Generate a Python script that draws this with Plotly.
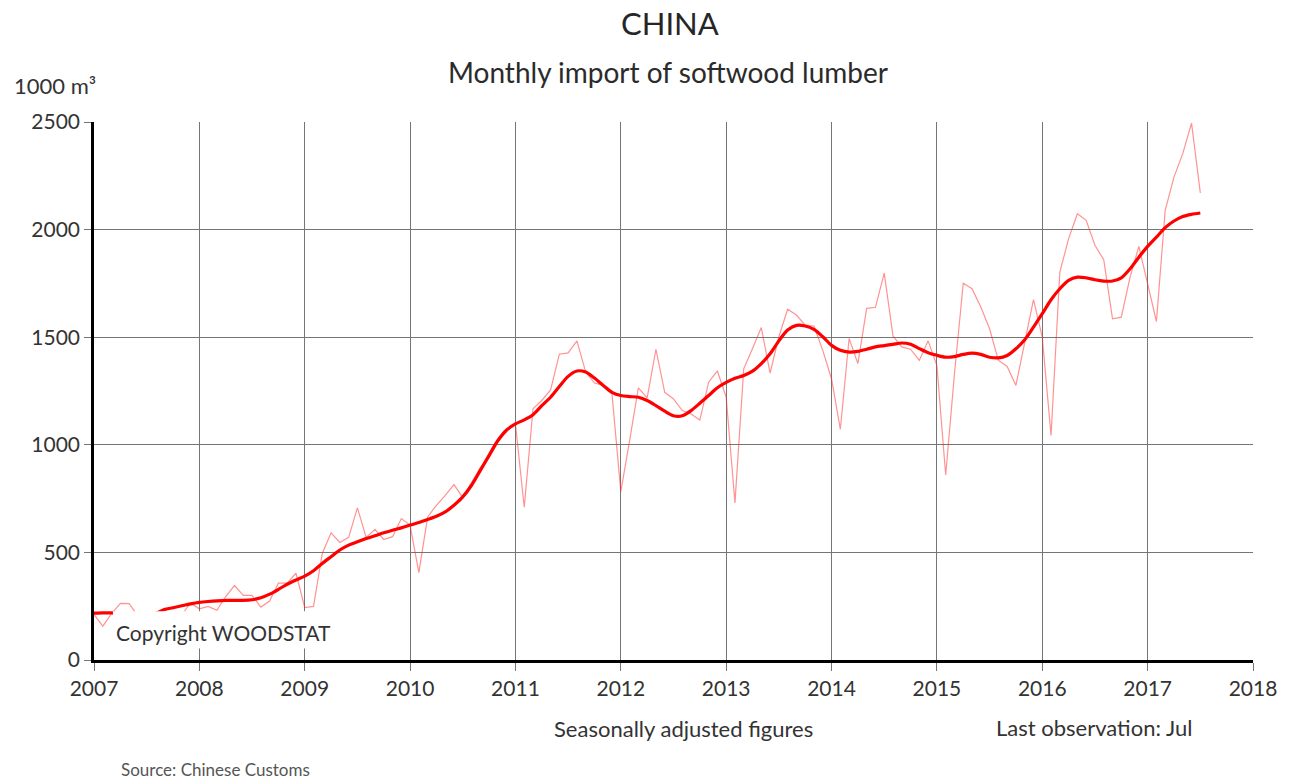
import plotly.graph_objects as go

# Monthly data Jan 2007 - Jul 2017 (1000 m3)
start_year = 2007
monthly = [
    212, 157, 215, 263, 262, 205, 195, 190, 195, 200, 210, 265,      # 2007
    238, 249, 231, 295, 346, 300, 300, 246, 274, 357, 357, 403,      # 2008
    244, 249, 495, 591, 546, 570, 707, 570, 607, 560, 573, 657,      # 2009
    627, 406, 665, 719, 765, 815, 755, 827, 894, 940, 1012, 1066,    # 2010
    1097, 710, 1167, 1206, 1255, 1421, 1427, 1483, 1338, 1287, 1276, 1234,  # 2011
    782, 1019, 1265, 1218, 1444, 1244, 1213, 1159, 1143, 1115, 1291, 1343,  # 2012
    1221, 730, 1353, 1447, 1545, 1333, 1502, 1630, 1603, 1556, 1552, 1439,  # 2013
    1306, 1072, 1494, 1377, 1634, 1639, 1798, 1505, 1455, 1444, 1392, 1483, # 2014
    1368, 860, 1330, 1751, 1725, 1640, 1539, 1392, 1364, 1276, 1469, 1675,  # 2015
    1500, 1043, 1802, 1958, 2074, 2043, 1927, 1860, 1585, 1593, 1779, 1922, # 2016
    1748, 1573, 2089, 2244, 2353, 2495, 2170,                                # 2017
]
trend = [
    218, 219, 219, 214, 210, 208, 210, 216, 234, 243, 252, 261,
    268, 272, 275, 277, 277, 277, 280, 289, 306, 328, 352, 372,
    390, 415, 449, 480, 511, 534, 549, 565, 577, 591, 603, 614,
    627, 639, 653, 668, 688, 719, 758, 812, 881, 951, 1020, 1069,
    1097, 1116, 1140, 1182, 1221, 1271, 1318, 1343, 1338, 1310, 1276, 1244,
    1229, 1224, 1221, 1206, 1182, 1156, 1135, 1135, 1159, 1193, 1229, 1265,
    1290, 1309, 1322, 1342, 1377, 1423, 1483, 1533, 1555, 1552, 1536, 1502,
    1462, 1439, 1431, 1434, 1444, 1455, 1461, 1467, 1473, 1467, 1447, 1428,
    1416, 1407, 1410, 1420, 1426, 1420, 1407, 1404, 1415, 1446, 1488, 1547,
    1609, 1674, 1725, 1764, 1779, 1776, 1767, 1761, 1761, 1776, 1818, 1872,
    1922, 1965, 2009, 2040, 2061, 2071, 2077,
]
x_ticks = list(range(2007, 2019))
x_labels = [str(y) for y in x_ticks]
y_ticks = [0, 500, 1000, 1500, 2000, 2500]

xs = [start_year + i / 12 for i in range(len(monthly))]

FONT = "Lato"
TXT = "#333333"
W, H = 1289, 782
L, R, T, B = 94, W - 1257, 122, H - 660

fig = go.Figure()
fig.add_trace(go.Scatter(x=xs, y=monthly, mode="lines",
                         line=dict(color="rgba(255,40,40,0.5)", width=1.2),
                         hoverinfo="skip", showlegend=False))
fig.add_trace(go.Scatter(x=xs, y=trend, mode="lines",
                         line=dict(color="#ff0000", width=3.2, shape="spline", smoothing=0.8),
                         hoverinfo="skip", showlegend=False))

fig.update_layout(
    width=W, height=H,
    margin=dict(l=L, r=R, t=T, b=B),
    paper_bgcolor="white", plot_bgcolor="white",
    font=dict(family=FONT, color=TXT, size=21),
    showlegend=False,
    xaxis=dict(range=[2007, 2018], tickvals=x_ticks, ticktext=x_labels,
               showgrid=True, gridcolor="#757575", gridwidth=1,
               ticks="outside", ticklen=8, tickcolor="#757575", tickwidth=1,
               showline=True, linecolor="black", linewidth=3,
               zeroline=False, tickfont=dict(size=21, color=TXT, family=FONT)),
    yaxis=dict(range=[0, 2500], tickvals=y_ticks,
               showgrid=True, gridcolor="#757575", gridwidth=1,
               ticks="outside", ticklen=7, tickcolor="#757575", tickwidth=1,
               showline=True, linecolor="black", linewidth=2.5,
               zeroline=False, tickfont=dict(size=21, color=TXT, family=FONT)),
)

# copyright box (white background hiding the lines behind it)
fig.add_shape(type="rect", xref="x", yref="y", x0=2007.18, x1=2009.29, y0=53, y1=226,
              fillcolor="white", line=dict(width=0), layer="above")
fig.add_annotation(x=2008.23, y=128, xref="x", yref="y", text="Copyright WOODSTAT",
                   showarrow=False, font=dict(size=21, color=TXT, family=FONT))


def fig_text(text, cx, cy, size, color=TXT, xanchor="center"):
    # figure-pixel position -> plot-area paper fractions
    pw, ph = W - L - R, H - T - B
    fx = (cx - L) / pw
    fy = (H - B - cy) / ph
    fig.add_annotation(x=fx, y=fy, xref="paper", yref="paper", text=text,
                       showarrow=False, xanchor=xanchor, yanchor="middle",
                       font=dict(size=size, color=color, family=FONT))


fig_text("CHINA", 672, 23, 31, color="#262626")
fig_text("Monthly import of softwood lumber", 670, 72, 28, color="#2b2b2b")
fig_text("1000 m³", 12, 85, 22, xanchor="left")
fig_text("Seasonally adjusted figures", 686, 728, 22)
fig_text("Last observation: Jul", 1097, 727, 22)
fig_text("Source: Chinese Customs", 119, 769, 17, color="#555555", xanchor="left")

fig.write_html(
    "out.html",
    config={"displayModeBar": False},
    post_script=(
        "document.documentElement.style.overflow='hidden';"
        "document.body.style.margin='0px';"
        "document.body.style.padding='0px';"
        "document.body.style.overflow='hidden';"
    ),
)
